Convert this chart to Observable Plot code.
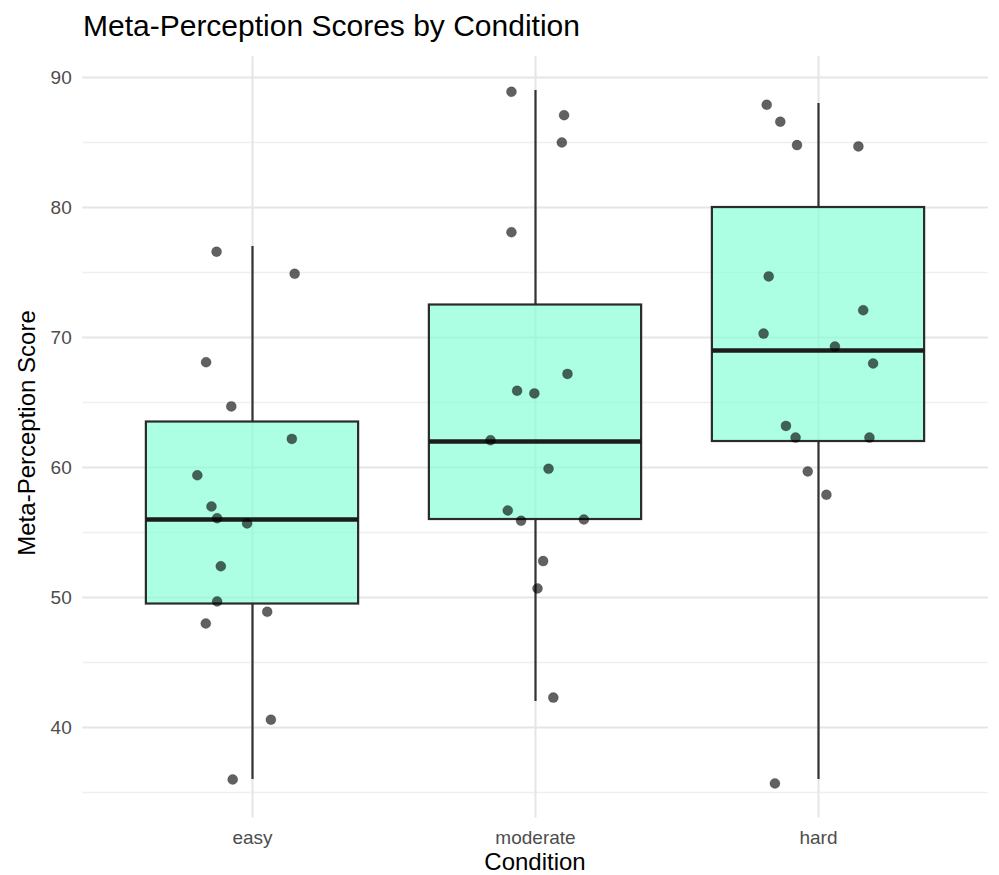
<!DOCTYPE html>
<html><head><meta charset="utf-8">
<script src="https://cdn.jsdelivr.net/npm/d3@7"></script>
<script src="https://cdn.jsdelivr.net/npm/@observablehq/plot@0.6"></script>
<style>
body{margin:0;background:#fff;font-family:"Liberation Sans",Arial,sans-serif;}
#title{height:48px;box-sizing:border-box;padding:11px 0 0 83px;font-size:30px;line-height:1;color:#000;white-space:nowrap;}
svg{display:block}
</style></head><body>
<div id="title">Meta-Perception Scores by Condition</div>
<div id="chart"></div>
<script>
// ---- data ----
const conditions = ["easy", "moderate", "hard"];
const q1 = [49.5, 56, 62];
const median = [56, 62, 69];
const q3 = [63.5, 72.5, 80];
const whiskerLow = [36, 42, 36];
const whiskerHigh = [77, 89, 88];

const easyScores = [76.6, 74.9, 68.1, 64.7, 62.2, 59.4, 57.0, 56.1, 55.7, 52.4, 49.7, 48.9, 48.0, 40.6, 36.0];
const easyJitter = [-0.127, 0.149, -0.164, -0.075, 0.139, -0.195, -0.145, -0.125, -0.019, -0.112, -0.125, 0.052, -0.165, 0.065, -0.070];
const moderateScores = [88.9, 87.1, 85.0, 78.1, 67.2, 65.9, 65.7, 62.1, 59.9, 56.7, 55.9, 56.0, 52.8, 50.7, 42.3];
const moderateJitter = [-0.085, 0.101, 0.093, -0.085, 0.113, -0.065, -0.004, -0.159, 0.046, -0.098, -0.051, 0.171, 0.027, 0.007, 0.063];
const hardScores = [87.9, 86.6, 84.8, 84.7, 74.7, 72.1, 70.3, 69.3, 68.0, 63.2, 62.3, 62.3, 59.7, 57.9, 35.7];
const hardJitter = [-0.183, -0.135, -0.076, 0.141, -0.176, 0.158, -0.194, 0.058, 0.193, -0.115, -0.081, 0.180, -0.038, 0.028, -0.154];

const majorTicks = [40, 50, 60, 70, 80, 90];
const minorTicks = [35, 45, 55, 65, 75, 85];
const boxWidth = 0.75;

// ---- tables ----
const boxes = conditions.map((c, k) => ({i: k + 1, q1: q1[k], median: median[k], q3: q3[k], lo: whiskerLow[k], hi: whiskerHigh[k]}));
const points = [];
[[easyScores, easyJitter], [moderateScores, moderateJitter], [hardScores, hardJitter]].forEach(([s, j], k) => {
  s.forEach((v, n) => points.push({i: k + 1, score: v, jitter: j[n]}));
});

const W = 999, H = 827;
const chart = Plot.plot({
  width: W, height: H,
  marginLeft: 82.2, marginRight: 11.2, marginTop: 8.2, marginBottom: 57.5,
  style: {fontSize: "19px", fontFamily: "'Liberation Sans', Arial, sans-serif", color: "#4d4d4d", background: "#fff", overflow: "visible"},
  x: {type: "linear", domain: [0.4, 3.6], ticks: [1, 2, 3], tickFormat: i => conditions[i - 1], tickSize: 0, tickPadding: 12, label: null},
  y: {domain: [33.04, 91.6], ticks: majorTicks, tickSize: 0, tickPadding: 11, label: null},
  marks: [
    Plot.ruleY(minorTicks, {stroke: "#efefef", strokeWidth: 1.6}),
    Plot.ruleY(majorTicks, {stroke: "#e5e5e5", strokeWidth: 2}),
    Plot.ruleX([1, 2, 3], {stroke: "#e5e5e5", strokeWidth: 2}),
    Plot.ruleX(boxes, {x: "i", y1: "q3", y2: "hi", stroke: "#333", strokeWidth: 2.2}),
    Plot.ruleX(boxes, {x: "i", y1: "lo", y2: "q1", stroke: "#333", strokeWidth: 2.2}),
    Plot.rect(boxes, {x1: d => d.i - boxWidth / 2, x2: d => d.i + boxWidth / 2, y1: "q1", y2: "q3", fill: "#7fffd4", fillOpacity: 0.65, stroke: "#2b2b2b", strokeWidth: 2.2}),
    Plot.ruleY(boxes, {y: "median", x1: d => d.i - boxWidth / 2, x2: d => d.i + boxWidth / 2, stroke: "#1c1c1c", strokeWidth: 4.5}),
    Plot.dot(points, {x: d => d.i + d.jitter, y: "score", r: 5, fill: "#000", fillOpacity: 0.62, stroke: "#000", strokeOpacity: 0.25, strokeWidth: 0.8})
  ]
});
document.getElementById("chart").appendChild(chart);

const svg = d3.select(chart);
svg.append("text")
  .attr("x", 535).attr("y", 822)
  .attr("text-anchor", "middle")
  .attr("font-size", 24).attr("fill", "#000")
  .text("Condition");
svg.append("text")
  .attr("transform", "translate(35,385) rotate(-90)")
  .attr("text-anchor", "middle")
  .attr("font-size", 24).attr("fill", "#000")
  .text("Meta-Perception Score");
</script>
</body></html>
